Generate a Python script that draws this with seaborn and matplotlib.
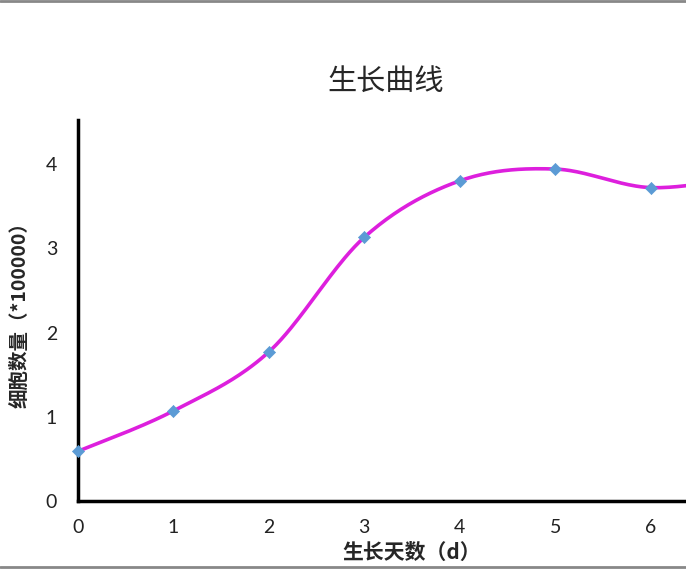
import numpy as np
import pandas as pd
import seaborn as sns
import matplotlib.pyplot as plt
from matplotlib.lines import Line2D

# 数据
days = [0, 1, 2, 3, 4, 5, 6, 7]
cells = [0.59, 1.07, 1.77, 3.13, 3.80, 3.94, 3.72, 3.85]
x_ticks = [0, 1, 2, 3, 4, 5, 6]
y_ticks = [0, 1, 2, 3, 4]


def smooth_curve(xs, ys, n=40):
    # 类似 Excel 平滑线 (Bezier, 张力 1/6)
    p = np.column_stack([xs, ys]).astype(float)
    p = np.vstack([p[0], p, p[-1]])
    out = []
    for i in range(1, len(p) - 2):
        p0, p1, p2, p3 = p[i - 1], p[i], p[i + 1], p[i + 2]
        b1 = p1 + (p2 - p0) / 6
        b2 = p2 - (p3 - p1) / 6
        t = np.linspace(0, 1, n)[:, None]
        seg = (1 - t) ** 3 * p1 + 3 * (1 - t) ** 2 * t * b1 + 3 * (1 - t) * t ** 2 * b2 + t ** 3 * p2
        out.append(seg if i == 1 else seg[1:])
    out = np.vstack(out)
    return pd.DataFrame({"x": out[:, 0], "y": out[:, 1]})


df = pd.DataFrame({"day": days, "cells": cells})
curve = smooth_curve(days, cells)

sns.set_style("white")
plt.rcParams["font.family"] = ["Noto Sans CJK SC", "DejaVu Sans"]

fig = plt.figure(figsize=(6.86, 5.69), dpi=100)
ax = fig.add_axes([78 / 686, 68 / 569, 668 / 686, 381 / 569])

sns.lineplot(data=curve, x="x", y="y", ax=ax, color="#DD1FDD", linewidth=2.6,
             sort=False, estimator=None)
sns.scatterplot(data=df, x="day", y="cells", ax=ax, marker="D", s=38,
                color="#5B9BD5", edgecolor="#5B9BD5", zorder=3, clip_on=False)

ax.set_xlim(0, 7)
ax.set_ylim(0, 381 / 84.25)
ax.set_xticks(x_ticks)
ax.set_yticks(y_ticks)
ax.tick_params(axis="both", direction="in", length=5, width=2, colors="black",
               labelsize=14, pad=13)
ax.tick_params(axis="y", pad=15)
for lab in ax.get_xticklabels() + ax.get_yticklabels():
    lab.set_fontfamily(["Lato", "DejaVu Sans"])
    lab.set_color("#222222")

for side in ["top", "right"]:
    ax.spines[side].set_visible(False)
for side in ["left", "bottom"]:
    ax.spines[side].set_linewidth(2.5)
    ax.spines[side].set_color("black")

ax.set_xlabel("生长天数（d）", fontsize=15, fontweight="bold", labelpad=4)
ax.set_ylabel("细胞数量（*100000）", fontsize=14, fontweight="bold", labelpad=12)
fig.text(386 / 686, 1 - 82 / 569, "生长曲线", ha="center", va="center",
         fontsize=21, fontweight="medium", family=["Noto Sans CJK SC", "DejaVu Sans"])

# 截图边框线
fig.add_artist(Line2D([0, 1], [1 - 1 / 569, 1 - 1 / 569], color="#888888", lw=2))
fig.add_artist(Line2D([0, 1], [1 - 567 / 569, 1 - 567 / 569], color="#888888", lw=2))

fig.savefig("out.png", dpi=100)
